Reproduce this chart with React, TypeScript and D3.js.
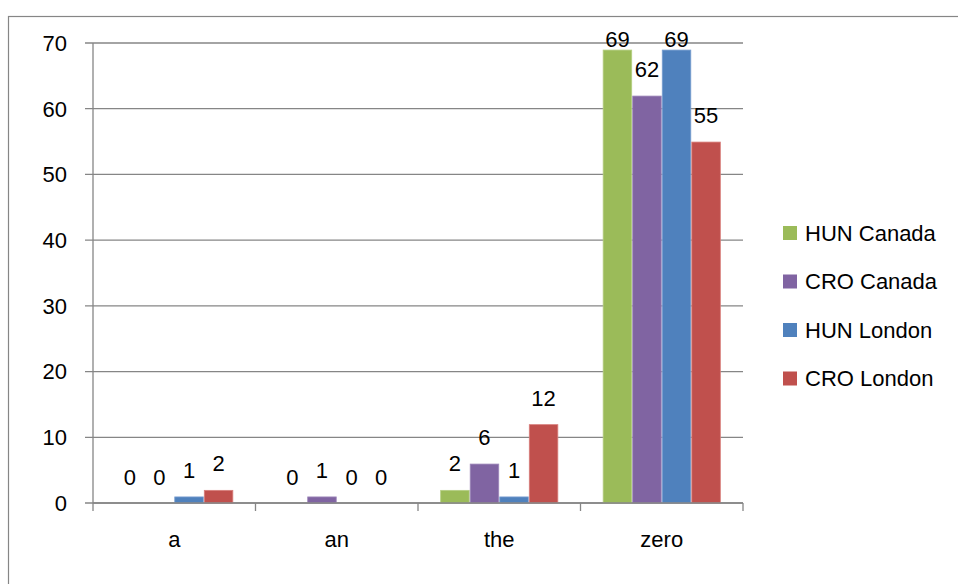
import React from "react";
import * as d3 from "d3";

const categories = ["a", "an", "the", "zero"];
const seriesNames = ["HUN Canada", "CRO Canada", "HUN London", "CRO London"];
const seriesColors = ["#9BBB59", "#8064A2", "#4F81BD", "#C0504D"];
const seriesEdge = ["#B4CE82", "#9E88BA", "#7A9FD0", "#D87F7C"];
const hunCanada = [0, 0, 2, 69];
const croCanada = [0, 1, 6, 62];
const hunLondon = [1, 0, 1, 69];
const croLondon = [2, 0, 12, 55];
const yTicks = [0, 10, 20, 30, 40, 50, 60, 70];

const seriesValues = [hunCanada, croCanada, hunLondon, croLondon];

export default function App() {
  const W = 958;
  const H = 584;
  const left = 93;
  const right = 743;
  const top = 43;
  const bottom = 503;
  const font = "'Liberation Sans', Arial, sans-serif";
  const fs = 22;

  const x = d3.scaleBand<string>().domain(categories).range([left, right]).padding(0);
  const y = d3.scaleLinear().domain([0, 70]).range([bottom, top]);
  const bw = x.bandwidth();
  const barW = bw / 5.5;
  const inner = d3
    .scaleBand<number>()
    .domain(d3.range(seriesNames.length))
    .range([bw * 0.75 / 5.5, bw - bw * 0.75 / 5.5])
    .padding(0);

  const boundaries = categories.map((c) => x(c) as number).concat([right]);

  return (
    <svg
      width={W}
      height={H}
      style={{ position: "absolute", left: 0, top: 0, background: "#fff" }}
    >
      <rect x={8.5} y={16.5} width={1200} height={1200} fill="#fff" stroke="#868686" strokeWidth={1.2} />
      {yTicks.map((t) => (
        <line key={"g" + t} x1={85} x2={right} y1={y(t)} y2={y(t)} stroke="#868686" strokeWidth={1.3} />
      ))}
      <line x1={left} x2={left} y1={top} y2={bottom} stroke="#868686" strokeWidth={1.3} />
      {yTicks.map((t) => (
        <text
          key={"yl" + t}
          x={67}
          y={y(t) + 7.8}
          textAnchor="end"
          fontFamily={font}
          fontSize={fs}
          fill="#000"
        >
          {t}
        </text>
      ))}
      {categories.map((c, ci) => (
        <g key={c}>
          {seriesValues.map((vals, si) => {
            const v = vals[ci];
            const bx = (x(c) as number) + (inner(si) as number);
            const by = y(v);
            const h = bottom - by;
            const ly = Math.max(by - 18.5, 47);
            return (
              <g key={si}>
                {h > 0 && (
                  <rect
                    x={bx + 0.5}
                    y={by + 0.5}
                    width={barW - 1}
                    height={h - 0.5}
                    fill={seriesColors[si]}
                    stroke={seriesEdge[si]}
                    strokeWidth={0.8}
                  />
                )}
                <text
                  x={bx + barW / 2}
                  y={ly}
                  textAnchor="middle"
                  fontFamily={font}
                  fontSize={fs}
                  fill="#000"
                >
                  {v}
                </text>
              </g>
            );
          })}
        </g>
      ))}
      <line x1={left} x2={right} y1={bottom} y2={bottom} stroke="#868686" strokeWidth={1.3} />
      {boundaries.map((b, i) => (
        <line key={"xt" + i} x1={b} x2={b} y1={bottom} y2={511} stroke="#868686" strokeWidth={1.3} />
      ))}
      {categories.map((c) => (
        <text
          key={"xl" + c}
          x={(x(c) as number) + bw / 2}
          y={547}
          textAnchor="middle"
          fontFamily={font}
          fontSize={fs}
          fill="#000"
        >
          {c}
        </text>
      ))}
      {seriesNames.map((n, i) => {
        const cy = 233 + i * 48.5;
        return (
          <g key={n}>
            <rect x={783} y={cy - 7} width={14} height={14} fill={seriesColors[i]} />
            <text x={805} y={cy + 7.8} fontFamily={font} fontSize={fs} fill="#000">
              {n}
            </text>
          </g>
        );
      })}
    </svg>
  );
}
